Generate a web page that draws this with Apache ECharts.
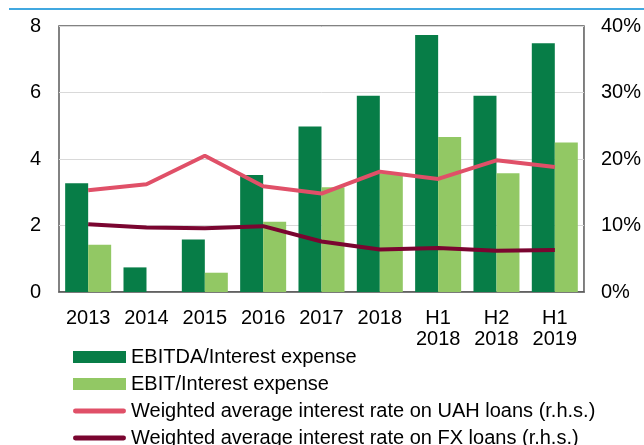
<!DOCTYPE html>
<html>
<head>
<meta charset="utf-8">
<script src="https://cdn.jsdelivr.net/npm/echarts@6/dist/echarts.min.js"></script>
<style>
  html, body { margin: 0; padding: 0; background: #fff; }
  #chart { width: 644px; height: 445px; }
</style>
</head>
<body>
<div id="chart"></div>
<script>
const categories = ['2013', '2014', '2015', '2016', '2017', '2018', 'H1\n2018', 'H2\n2018', 'H1\n2019'];
const ebitda = [3.27, 0.74, 1.58, 3.52, 4.98, 5.9, 7.73, 5.9, 7.48];
const ebit = [1.42, -0.1, 0.58, 2.11, 3.15, 3.57, 4.66, 3.57, 4.5];
const uahRate = [15.3, 16.2, 20.5, 15.9, 14.8, 18.1, 17.0, 19.8, 18.8];
const fxRate = [10.2, 9.7, 9.6, 9.9, 7.6, 6.4, 6.6, 6.2, 6.3];
const leftTicks = [0, 2, 4, 6, 8];
const rightTicks = [0, 10, 20, 30, 40];

const FONT = 'Liberation Sans, Arial, sans-serif';
// rounded thin bar used as legend icon for the line series
const LINE_ICON = 'path://M2.5,0 H52.5 A2.5,2.5 0 0 1 52.5,5 H2.5 A2.5,2.5 0 0 1 2.5,0 Z';

const chart = echarts.init(document.getElementById('chart'));

const option = {
  animation: false,
  textStyle: { fontFamily: FONT },
  color: ['#077d47', '#92c864', '#e05068', '#7a0530'],
  graphic: [
    {
      type: 'line',
      shape: { x1: 9, y1: 9, x2: 644, y2: 9 },
      style: { stroke: '#41a8e0', lineWidth: 2 }
    }
  ],
  legend: {
    orient: 'vertical',
    left: 68,
    top: 342,
    height: 200,
    itemWidth: 53,
    itemHeight: 12,
    itemGap: 7,
    symbolKeepAspect: true,
    textStyle: { fontSize: 20, color: '#000', fontFamily: FONT },
    data: [
      { name: 'EBITDA/Interest expense', icon: 'rect' },
      { name: 'EBIT/Interest expense', icon: 'rect' },
      { name: 'Weighted average interest rate on UAH loans (r.h.s.)', icon: LINE_ICON },
      { name: 'Weighted average interest rate on FX loans (r.h.s.)', icon: LINE_ICON }
    ]
  },
  grid: {
    left: 59,
    right: 59,
    top: 26,
    bottom: 153,
    show: true,
    borderColor: '#595959',
    borderWidth: 1.5,
    containLabel: false
  },
  xAxis: {
    type: 'category',
    data: categories,
    axisLine: { lineStyle: { color: '#595959', width: 1.5 } },
    axisTick: { inside: true, length: 5, lineStyle: { color: '#595959' } },
    axisLabel: { color: '#000', fontSize: 20, lineHeight: 21, margin: 16, interval: 0, fontFamily: FONT }
  },
  yAxis: [
    {
      type: 'value',
      min: leftTicks[0],
      max: leftTicks[leftTicks.length - 1],
      interval: 2,
      axisLine: { show: false },
      axisTick: { show: false },
      splitLine: { lineStyle: { color: '#d9d9d9', width: 1 } },
      axisLabel: { color: '#000', fontSize: 20, margin: 18, fontFamily: FONT }
    },
    {
      type: 'value',
      min: rightTicks[0],
      max: rightTicks[rightTicks.length - 1],
      interval: 10,
      axisLine: { show: false },
      axisTick: { show: false },
      splitLine: { show: false },
      axisLabel: { color: '#000', fontSize: 20, margin: 17, formatter: '{value}%', fontFamily: FONT }
    }
  ],
  series: [
    {
      name: 'EBITDA/Interest expense',
      type: 'bar',
      data: ebitda,
      barWidth: 23,
      barGap: '0%'
    },
    {
      name: 'EBIT/Interest expense',
      type: 'bar',
      data: ebit,
      barWidth: 23,
      barGap: '0%'
    },
    {
      name: 'Weighted average interest rate on UAH loans (r.h.s.)',
      type: 'line',
      yAxisIndex: 1,
      data: uahRate,
      symbol: 'none',
      z: 5,
      itemStyle: { color: '#e05068' },
      lineStyle: { width: 4, color: '#e05068' }
    },
    {
      name: 'Weighted average interest rate on FX loans (r.h.s.)',
      type: 'line',
      yAxisIndex: 1,
      data: fxRate,
      symbol: 'none',
      z: 5,
      itemStyle: { color: '#7a0530' },
      lineStyle: { width: 4, color: '#7a0530' }
    }
  ]
};

chart.setOption(option);
window.addEventListener('resize', () => {
  chart.resize();
});
</script>
</body>
</html>
